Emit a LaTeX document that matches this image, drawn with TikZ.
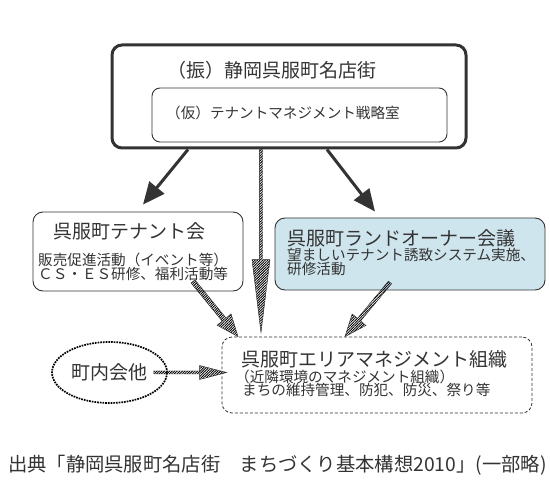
\documentclass[tikz,border=0pt]{standalone}
\usepackage{fontspec}
\setmainfont{Noto Sans CJK JP}
\usepackage{tikz}
\usetikzlibrary{arrows.meta, shapes, calc, patterns.meta}

\definecolor{ink}{HTML}{333333}
\definecolor{ownerblue}{HTML}{CFE5ED}

% hatched block arrow: from, to, shaft half width, head half width, head length
\newcommand{\hatcharrow}[5]{%
	\coordinate (hb) at ($(#2)!#5!(#1)$);
	\draw[hatch] ($(#1)!#3!90:(#2)$) -- ($(hb)!#3!90:(#2)$) -- ($(hb)!#4!90:(#2)$) -- (#2)
		-- ($(hb)!#4!-90:(#2)$) -- ($(hb)!#3!-90:(#2)$) -- ($(#1)!#3!-90:(#2)$) -- cycle;}

\begin{document}
\begin{tikzpicture}[x=1pt, y=-1pt,
	box/.style={draw=ink, rounded corners=10pt, line width=0.9pt},
	big/.style={font=\fontsize{19}{19}\selectfont, text=ink, inner sep=0pt},
	small/.style={font=\fontsize{14.6}{13}\selectfont, text=ink, inner sep=0pt, align=left},
	heavy/.style={draw=ink, line width=3pt, -{Triangle[length=22pt, width=19pt]}},
	hatch/.style={draw=black!85, line width=0.4pt, pattern={Lines[angle=45, distance=1.8pt, line width=0.9pt]}, pattern color=black}]
	\useasboundingbox (0,0) rectangle (550,500);

	% boxes
	\node[box, line width=3pt, minimum width=354pt, minimum height=103pt] (shop) at (289,96.5) {};
	\node[big, anchor=west] (shoptitle) at (167,70) {（振）静岡呉服町名店街};
	\node[box, rounded corners=8pt, minimum width=295pt, minimum height=54pt] (office) at (299.5,115) {};
	\node[small, anchor=west] (officetext) at (166,113) {（仮）テナントマネジメント戦略室};

	\node[box, minimum width=210pt, minimum height=79pt] (tenant) at (138,251.5) {};
	\node[big, anchor=west] (tenanttitle) at (53,231) {呉服町テナント会};
	\node[small, anchor=west] (tenanttext) at (38,267) {販売促進活動（イベント等）\\ＣＳ・ＥＳ研修、福利活動等};

	\node[box, fill=ownerblue, minimum width=270pt, minimum height=72pt] (owner) at (410,254) {};
	\node[big, anchor=west] (ownertitle) at (287,238.5) {呉服町ランドオーナー会議};
	\node[small, anchor=west, font=\fontsize{14.6}{14}\selectfont] (ownertext) at (287,262) {望ましいテナント誘致システム実施、\\研修活動};

	\node[box, line width=0.8pt, dash pattern=on 3pt off 2pt, minimum width=310pt, minimum height=76pt] (area) at (377,375) {};
	\node[big, anchor=west] (areatitle) at (241,359.5) {呉服町エリアマネジメント組織};
	\node[small, anchor=west] (areanote) at (235,376.5) {（近隣環境のマネジメント組織）};
	\node[small, anchor=west] (areatext) at (242,390) {まちの維持管理、防犯、防災、祭り等};

	\node[big, ellipse, draw=black, line width=1.7pt, densely dotted, minimum width=115pt, minimum height=61pt] (town) at (109.5,372.5) {町内会他};

	\node[font=\fontsize{19.3}{19}\selectfont, text=ink, inner sep=0pt, anchor=west] (source) at (8,465) {出典「静岡呉服町名店街　まちづくり基本構想2010」(一部略)};

	% arrows
	\draw[heavy] ([xshift=-101pt]shop.south) -- ([xshift=5pt, yshift=7pt]tenant.north);
	\draw[heavy] ([xshift=38pt]shop.south) -- ([xshift=-35pt, yshift=6pt]owner.north);

	\coordinate (v1) at ([xshift=-28pt]shop.south);
	\coordinate (v2) at ([xshift=-116pt, yshift=4pt]area.north);
	\hatcharrow{v1}{v2}{1.7pt}{9pt}{73pt}
	\coordinate (t1) at ([xshift=55pt, yshift=10pt]tenant.south);
	\coordinate (t2) at ([xshift=-139pt]area.north);
	\hatcharrow{t1}{t2}{2.5pt}{9pt}{22pt}
	\coordinate (o1) at ([xshift=-20pt, yshift=8pt]owner.south);
	\coordinate (o2) at ([xshift=-32pt]area.north);
	\hatcharrow{o1}{o2}{2pt}{9pt}{22pt}
	\coordinate (h1) at ([xshift=-14pt]town.east);
	\coordinate (h2) at ([xshift=5pt, yshift=2.5pt]area.west);
	\hatcharrow{h1}{h2}{1.5pt}{7pt}{27pt}
\end{tikzpicture}
\end{document}
